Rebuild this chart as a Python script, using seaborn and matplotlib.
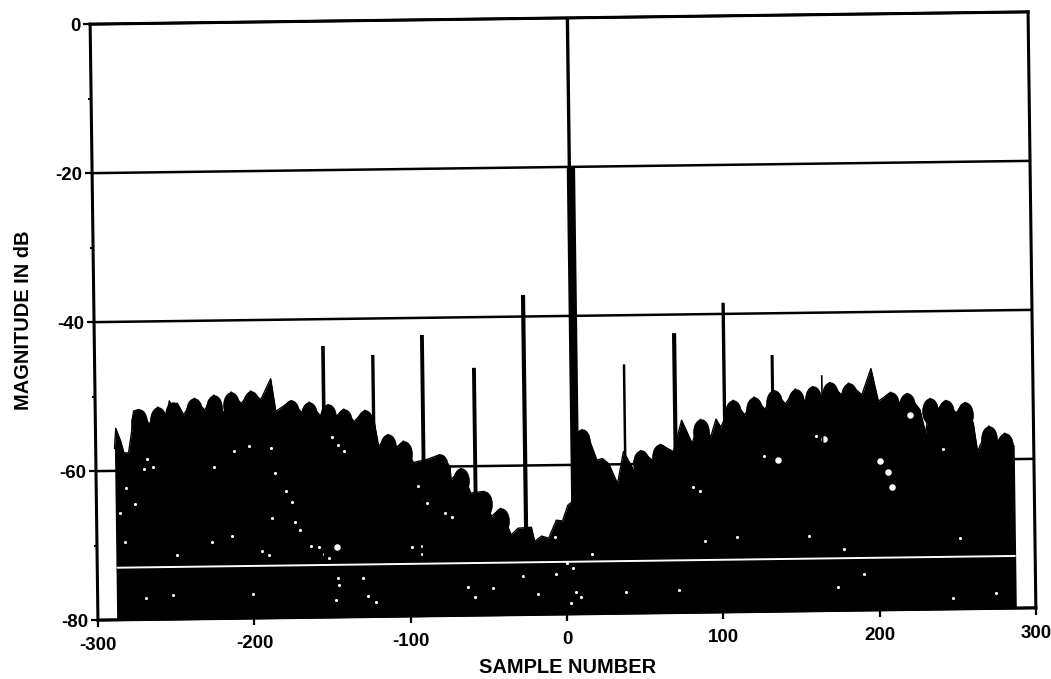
import matplotlib
matplotlib.use("Agg")
import matplotlib.pyplot as plt
import seaborn as sns
from matplotlib.collections import PathCollection
from matplotlib.markers import MarkerStyle
from matplotlib.transforms import Affine2D

# spectrum outline (sample number, dB)
env_x = [-288, -287, -284, -282, -279, -277, -275.5, -272, -265.5, -260, -254.5, -252.5, -250, -247.5, -243.5,
         -236.5, -230, -224, -217.5, -213, -206.5, -200.5, -194, -187.5, -184.5, -174.5, -167.5, -163, -156,
         -151, -146.5, -141, -134.5, -127.5, -122, -119, -113, -108.5, -103, -97, -88, -80, -73.5, -73, -66.5,
         -60.5, -52, -47.5, -41.5, -35, -30.5, -22, -20, -15.5, -11, -6, -2, 1.5,
         4, 11, 15, 20.5, 24, 28, 33.5, 37.5, 45, 48.5, 57, 61, 69.5, 75, 81.5, 87, 93.5, 97, 100,
         108, 115.5, 121.5, 128.5, 134, 141.5, 148, 154, 159, 164.5, 170, 177.5, 182, 190.5, 196.5, 201,
         209, 213.5, 219.5, 227.5, 231, 234, 238.5, 244, 250.5, 256.5, 261.5, 264, 271.5, 275.5, 281.5, 287.5]
env_y = [-57, -54.3, -56, -57.6, -57.6, -54.9, -52, -51.8, -53.8, -51.5, -52.7, -50.7, -51.9, -51, -52.6,
         -50.4, -52, -50, -52.5, -49.6, -51.2, -49.5, -50.7, -47.9, -52.3, -50.9, -52.6, -51.1, -53,
         -51.5, -53.2, -52.1, -53.8, -52.3, -53.4, -57.2, -55.6, -57.5, -56.5, -59.4, -59, -58.4, -60, -61.8, -60.3,
         -63.6, -63.4, -66.8, -65.7, -69.3, -68.4, -68.3, -70.2, -69.5, -69.8, -67.4, -67.5, -65.4,
         -65, -55.3, -56.2, -59.4, -59.2, -59.9, -62.6, -58.3, -61.2, -58.2, -59.7, -57.4, -58.4, -54.2, -57.3, -54.1, -56.5, -54.1, -55.2,
         -51.6, -53.6, -51.2, -52.9, -50.3, -52.2, -50.2, -51.9, -49.9, -51.3, -49.4, -51.1, -49.5, -51.1, -47.6, -52,
         -50.8, -52.5, -51, -53.2, -56.4, -51.7, -53.3, -52, -53.7, -52.3, -55.1, -58.9, -55.5, -57.9, -56.5, -58.3]

# centres of the rounded lobes on top of the outline
lobe_x = [-272, -260, -250, -236.5, -224, -213, -200.5, -174.5, -163, -151, -141, -127.5, -113, -103,
          -80, -66.5, -52, -41.5, 11, 48.5, 61, 87, 108, 121.5, 134, 148, 159, 170, 182, 209, 219.5, 234, 244,
          256.5, 271.5, 281.5]
lobe_y = [-53.5, -53.2, -52.6, -52.1, -51.7, -51.3, -51.2, -52.6, -52.8, -53.2, -53.8, -54, -57.3, -58.2,
          -60.1, -62, -65.1, -67.4, -57, -59.9, -59.1, -55.8, -53.3, -52.9, -52, -51.9, -51.6, -51.1, -51.2,
          -52.5, -52.7, -53.4, -53.7, -54, -57.2, -58.2]

spike_x = [-153.8, -122, -90.4, -57.4, -25.4, 38.6, 70.9, 102.5, 133.4, 165]
spike_top = [-43.6, -44.9, -42.3, -46.8, -37.1, -46.6, -42.5, -38.5, -45.6, -48.4]
spike_lw = [2.6, 2.4, 2.8, 2.8, 3.0, 1.8, 3.0, 2.4, 2.2, 1.2]

# main peak: narrow tip, wide body
peak_x = 6.3
peak_tip = 0
peak_body = -20

# white flecks in the black area
fleck_x = [-269, -224.6, -201.8, -211.4, -188, -185.8, -178.4, -175.1, -188, -173, -169.8, -163.4, -158.1, -154.9,
           -151.7, -146.4, -145.3, -147.4, -130.4, -127.2, -121.8, -90.9, -88.8, -94.1, -77, -72.8, -98.4, -92, -92,
           -248.7, -194.3, -190.1, -226.3, -213.5, -281.8, -285, -275.4, -281.2, -269, -252, -200.7, -58.9, -18.4,
           -28, -6.6, -47.2, -63.2, -148.5, -145.3, -141, -267, -263.7, 127.7, 86.1, 81.4, 160.7, 241.8, 177.8, 38.1,
           72.2, 16.8, 2.9, 9.3, 6.1, 0.8, 4, -6.7, 155.4, 109.5, 88.9, 252, 274.9, 247.1, 173.5, 190.6]
fleck_y = [-59.8, -59.6, -56.9, -57.6, -57.2, -60.5, -63, -64.5, -66.6, -67.2, -68.3, -70.4, -70.6, -71.5,
           -72.1, -74.8, -75.7, -77.7, -74.8, -77.3, -78, -64.3, -64.8, -62.5, -66.3, -66.8, -70.8, -70.6, -71.7,
           -71.4, -71, -71.6, -69.7, -69, -69.5, -65.7, -64.5, -62.3, -77.1, -76.8, -76.8, -77.5, -77.3,
           -74.8, -74.6, -76.4, -76.2, -55.8, -56.9, -57.8, -58.5, -59.6, -59.1, -63.7, -63.2, -56.5, -58.5, -71.7, -77.1,
           -77, -72, -78.5, -77.8, -77, -73.2, -73.8, -69.6, -70, -70, -70.5, -70.5, -77.9, -78.5, -76.8, -75.1]
blob_x = [136.2, 201.3, 206.6, 209.2, 220.9, 166.1, -146.4]
blob_y = [-59.7, -60, -61.5, -63.5, -53.9, -57, -70.6]

white_x = [-287, 287]
white_y = [-73, -73]

x_ticks = [-300, -200, -100, 0, 100, 200, 300]
y_ticks = [-80, -60, -40, -20, 0]
y_minor = [-70, -50, -30, -10]

sns.set_theme(style="white", rc={"font.family": "Liberation Sans", "axes.unicode_minus": False})
fig = plt.figure(figsize=(10.51, 6.79), dpi=100)
ax = fig.add_axes([94 / 1051, 1 - 614 / 679, 938 / 1051, 596 / 679])

ax.fill_between(env_x, env_y, -80, color="black", lw=0)
sns.lineplot(x=env_x, y=env_y, sort=False, estimator=None, color="black", lw=1,
             solid_joinstyle="round", ax=ax)
# tall ellipses give the domed lobes with sharp valleys between them
dome = MarkerStyle("o", transform=Affine2D().scale(1.2, 1.9))
sns.scatterplot(x=lobe_x, y=lobe_y, color="black", s=100, linewidth=0, marker=dome, ax=ax)
ax.vlines(spike_x, -75, spike_top, color="black", lw=spike_lw)
ax.vlines(peak_x, -70, peak_body, color="black", lw=6)
ax.vlines(peak_x - 1, peak_body, peak_tip, color="black", lw=2.4)

sns.lineplot(x=white_x, y=white_y, color="white", lw=1.4, ax=ax)
sns.scatterplot(x=fleck_x, y=fleck_y, color="white", s=5, linewidth=0, ax=ax)
sns.scatterplot(x=blob_x, y=blob_y, color="white", s=22, linewidth=0, ax=ax)

ax.set_xlim(-300, 300)
ax.set_ylim(-80, 0)
ax.set_xticks(x_ticks)
ax.set_yticks(y_ticks)
ax.set_yticks(y_minor, minor=True)
ax.yaxis.grid(True, color="black", lw=1.8)
ax.set_axisbelow(True)
ax.tick_params(axis="both", which="major", length=5, width=1.6, color="black", labelsize=13.5,
               labelcolor="black", bottom=True, left=True)
ax.tick_params(axis="x", which="major", pad=7)
ax.tick_params(axis="y", which="major", pad=2)
ax.tick_params(axis="y", which="minor", length=2, width=1.4, color="black", left=True)
for lab in ax.get_xticklabels() + ax.get_yticklabels():
    lab.set_fontweight("bold")
ax.set_xlabel("SAMPLE NUMBER", fontsize=14.4, fontweight="bold", color="black", labelpad=3)
ax.set_ylabel("MAGNITUDE IN dB", fontsize=14.4, fontweight="bold", color="black", labelpad=16)
ax.yaxis.label.set_y(0.505)
for s in ax.spines.values():
    s.set_color("black")
    s.set_linewidth(2.2)

# the page was scanned slightly crooked, tilt everything about the axes centre
fig.canvas.draw()
tilt = Affine2D().rotate_deg_around(563, 679 - 316, 0.75)
seen = set()
for art in ax.findobj():
    if art is ax or id(art) in seen or art in (ax.xaxis, ax.yaxis):
        continue
    seen.add(id(art))
    if not hasattr(art, "set_clip_on"):
        continue
    art.set_clip_on(False)
    if isinstance(art, PathCollection):
        art.set_offset_transform(art.get_offset_transform() + tilt)
    elif art is not ax.patch:
        try:
            art.set_transform(art.get_transform() + tilt)
        except AttributeError:
            pass

fig.savefig("out.png", dpi=100)
